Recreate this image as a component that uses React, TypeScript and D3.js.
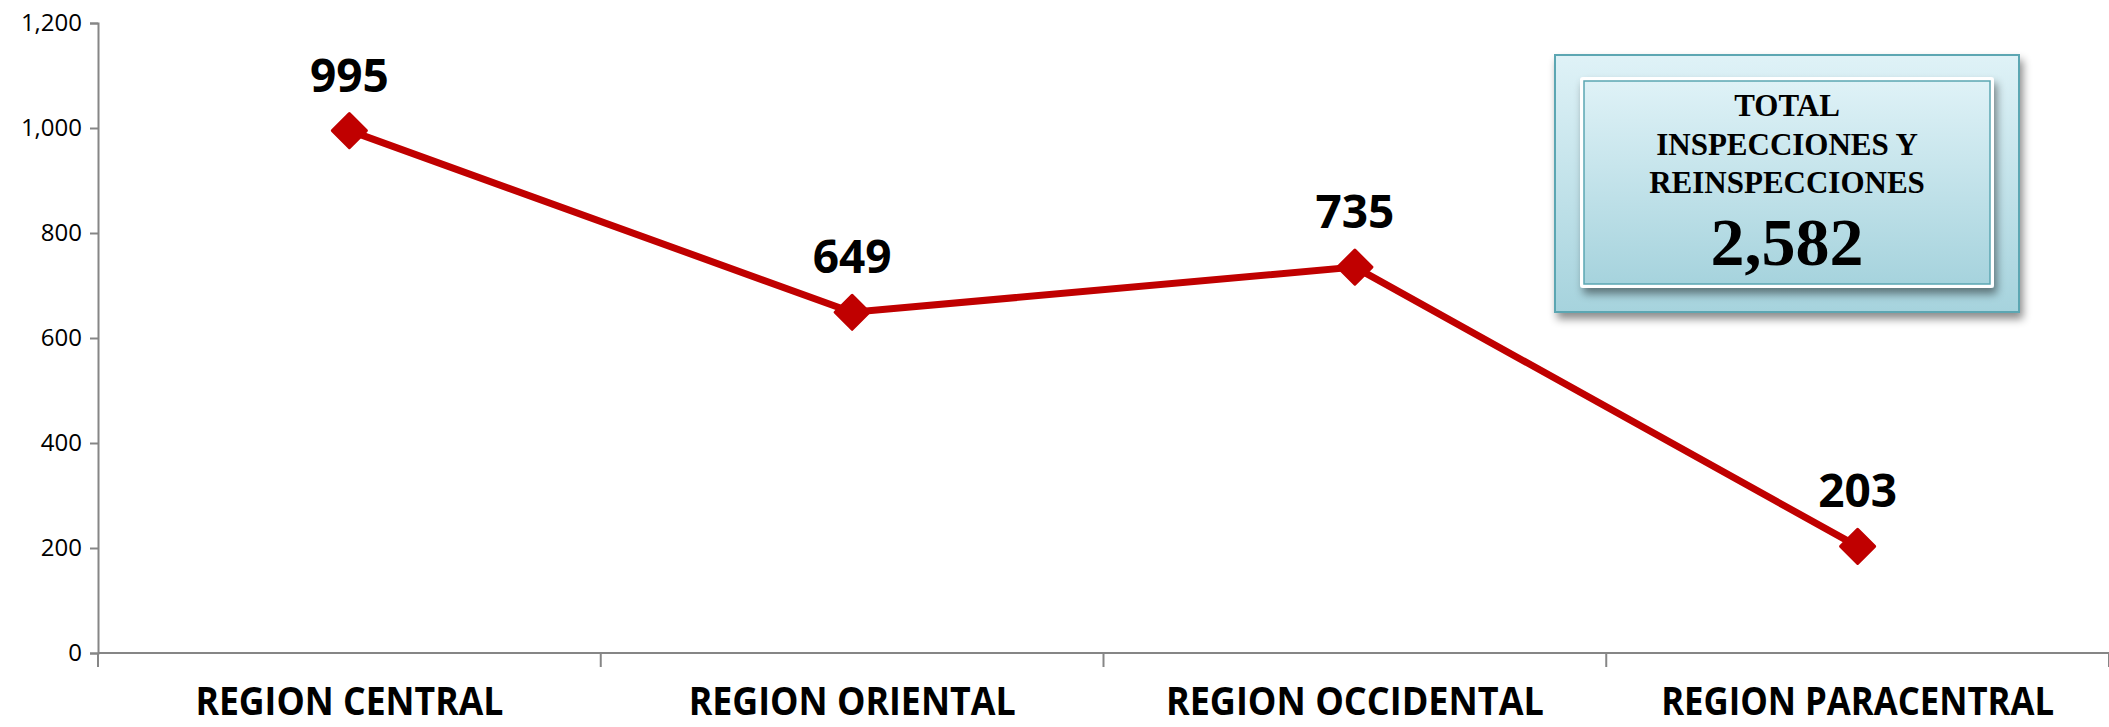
import * as d3 from 'd3';
import { useRef, useEffect } from 'react';

const categories = ['REGION CENTRAL', 'REGION ORIENTAL', 'REGION OCCIDENTAL', 'REGION PARACENTRAL'];
const values = [995, 649, 735, 203];
const yTicks = [0, 200, 400, 600, 800, 1000, 1200];
const boxTitle = ['TOTAL', 'INSPECCIONES Y', 'REINSPECCIONES'];
const boxTotal = '2,582';

const W = 2109;
const H = 727;

const App = () => {
  const svgRef = useRef<SVGSVGElement | null>(null);

  useEffect(() => {
    const svg = d3.select(svgRef.current);
    svg.selectAll('*').remove();

    const left = 98;
    const x = d3.scaleBand().domain(categories).range([left, W]);
    const y = d3.scaleLinear().domain([0, 1200]).range([653, 23]);
    const fmt = d3.format(',');

    const defs = svg.append('defs');
    const outerGrad = defs.append('linearGradient').attr('id', 'outerGrad').attr('x1', 0).attr('y1', 0).attr('x2', 0).attr('y2', 1);
    outerGrad.append('stop').attr('offset', '0%').attr('stop-color', '#dff2f7');
    outerGrad.append('stop').attr('offset', '100%').attr('stop-color', '#a6d3dd');
    const shadow = defs.append('filter').attr('id', 'shadow').attr('x', '-10%').attr('y', '-10%').attr('width', '130%').attr('height', '140%');
    shadow.append('feDropShadow').attr('dx', 3).attr('dy', 6).attr('stdDeviation', 4).attr('flood-color', '#000').attr('flood-opacity', 0.45);

    // axes
    const gy = svg.append('g').attr('transform', `translate(${left},0)`)
      .call(d3.axisLeft(y).tickValues(yTicks).tickFormat((d) => fmt(d as number)).tickSize(8).tickPadding(8));
    gy.select('.domain').attr('stroke', '#868686').attr('stroke-width', 2);
    gy.selectAll('.tick line').attr('stroke', '#868686').attr('stroke-width', 2);
    gy.selectAll('.tick text')
      .attr('font-family', "'Open Sans', sans-serif")
      .attr('font-size', 24)
      .attr('fill', '#000');

    const gx = svg.append('g').attr('transform', `translate(0,${y(0)})`);
    gx.append('line').attr('x1', left).attr('x2', W).attr('stroke', '#868686').attr('stroke-width', 2);
    const edges = categories.map((c) => x(c)!).concat([W]);
    gx.selectAll('line.tick').data(edges).enter().append('line')
      .attr('class', 'tick')
      .attr('x1', (d) => d).attr('x2', (d) => d)
      .attr('y1', 0).attr('y2', 14)
      .attr('stroke', '#868686').attr('stroke-width', 2);
    // label widths (Calibri-like condensed look)
    const labelWidths = [308, 327, 378, 393];
    gx.selectAll('text').data(categories).enter().append('text')
      .attr('x', (d) => x(d)! + x.bandwidth() / 2)
      .attr('y', 62)
      .attr('text-anchor', 'middle')
      .attr('font-family', "'Open Sans', sans-serif")
      .attr('font-weight', 'bold')
      .attr('font-size', 39)
      .attr('textLength', (_, i) => labelWidths[i])
      .attr('lengthAdjust', 'spacingAndGlyphs')
      .attr('fill', '#000')
      .text((d) => d);

    // line
    const cx = (i: number) => x(categories[i])! + x.bandwidth() / 2;
    const line = d3.line<number>().x((_, i) => cx(i)).y((d) => y(d));
    svg.append('path').datum(values)
      .attr('d', line)
      .attr('fill', 'none')
      .attr('stroke', '#c00000')
      .attr('stroke-width', 7);

    const sym = d3.symbol().type(d3.symbolSquare).size(580);
    svg.selectAll('path.marker').data(values).enter().append('path')
      .attr('class', 'marker')
      .attr('d', sym)
      .attr('transform', (d, i) => `translate(${cx(i)},${y(d)}) rotate(45)`)
      .attr('fill', '#c00000')
      .attr('stroke', '#c00000')
      .attr('stroke-width', 3)
      .attr('stroke-linejoin', 'round');

    svg.selectAll('text.lbl').data(values).enter().append('text')
      .attr('class', 'lbl')
      .attr('x', (_, i) => cx(i))
      .attr('y', (d) => y(d) - 39)
      .attr('text-anchor', 'middle')
      .attr('font-family', "'Open Sans', sans-serif")
      .attr('font-weight', 'bold')
      .attr('font-size', 46)
      .attr('fill', '#000')
      .text((d) => fmt(d));

    // total box
    const box = svg.append('g');
    box.append('rect')
      .attr('x', 1555).attr('y', 55).attr('width', 464).attr('height', 257)
      .attr('fill', 'url(#outerGrad)')
      .attr('stroke', '#5ba6b2').attr('stroke-width', 2)
      .attr('filter', 'url(#shadow)');
    box.append('rect')
      .attr('x', 1580).attr('y', 77).attr('width', 414).attr('height', 211)
      .attr('fill', '#fff').attr('rx', 3)
      .attr('filter', 'url(#shadow)');
    box.append('rect')
      .attr('x', 1584).attr('y', 81).attr('width', 406).attr('height', 203)
      .attr('fill', 'url(#outerGrad)')
      .attr('stroke', '#5ba6b2').attr('stroke-width', 1.5);
    const tx = 1787;
    box.selectAll('text.title').data(boxTitle).enter().append('text')
      .attr('class', 'title')
      .attr('x', tx)
      .attr('y', (_, i) => 116 + i * 38.5)
      .attr('text-anchor', 'middle')
      .attr('font-family', "'Liberation Serif', serif")
      .attr('font-weight', 'bold')
      .attr('font-size', 31)
      .attr('fill', '#000')
      .text((d) => d);
    box.append('text')
      .attr('x', tx).attr('y', 265)
      .attr('text-anchor', 'middle')
      .attr('font-family', "'Liberation Serif', serif")
      .attr('font-weight', 'bold')
      .attr('font-size', 68)
      .attr('fill', '#000')
      .text(boxTotal);
  }, []);

  return (
    <div style={{ position: 'absolute', left: 0, top: 0, width: W, height: H, background: '#fff' }}>
      <svg ref={svgRef} width={W} height={H} style={{ display: 'block' }} />
    </div>
  );
};

export default App;
